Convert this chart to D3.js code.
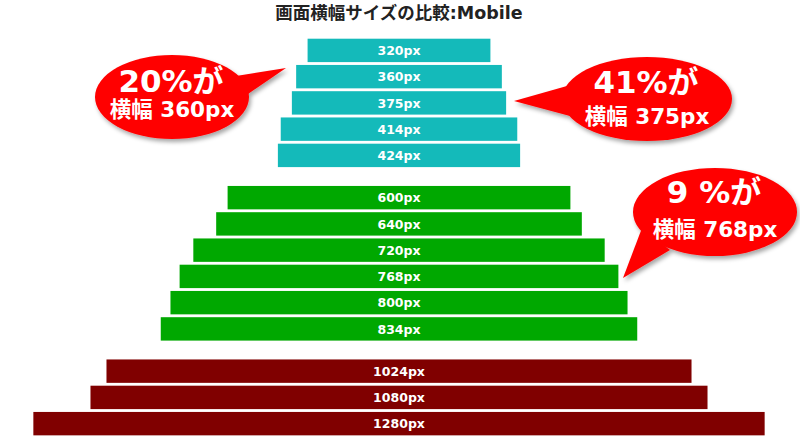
<!DOCTYPE html>
<html>
<head>
<meta charset="utf-8">
<script src="https://cdn.jsdelivr.net/npm/d3@7"></script>
<style>
  html, body { margin: 0; padding: 0; background: #ffffff; }
  svg { display: block; }
</style>
</head>
<body>
<div id="chart"></div>
<script>
// ---- data ----
const title = "画面横幅サイズの比較:Mobile";
const categories = ["320px","360px","375px","414px","424px","600px","640px","720px","768px","800px","834px","1024px","1080px","1280px"];
const widthsPx = [320,360,375,414,424,600,640,720,768,800,834,1024,1080,1280];
const groupIndex = [0,0,0,0,0,1,1,1,1,1,1,2,2,2];
const groupColors = ["#14BABA","#00A800","#800000"];
const calloutLine1 = ["20%が","41%が","9 %が"];
const calloutLine2 = ["横幅 360px","横幅 375px","横幅 768px"];

// ---- layout ----
const W = 800, H = 437;
const cx = 399;
const svg = d3.select("#chart").append("svg").attr("width", W).attr("height", H);

const defs = svg.append("defs");
const f = defs.append("filter").attr("id","shadow").attr("x","-20%").attr("y","-20%").attr("width","150%").attr("height","150%");
f.append("feDropShadow").attr("dx",2).attr("dy",3).attr("stdDeviation",2)
  .attr("flood-color","#000").attr("flood-opacity",0.35);

const fontFam = "'DejaVu Sans', 'Noto Sans CJK JP', sans-serif";

svg.append("text")
  .attr("x", cx).attr("y", 18.5)
  .attr("text-anchor","middle")
  .style("font-family", fontFam)
  .style("font-weight","bold")
  .style("font-size","17.5px")
  .attr("fill","#222")
  .text(title);

const x = d3.scaleLinear().domain([0, 1280]).range([0, 731.3]);
const yIdx = d3.scaleLinear().domain([0, 13]).range([38.7, 38.7 + 13 * 26.25]);
const groupGap = d3.scaleLinear().domain([0, 2]).range([0, 32]);
const barH = 23.4;

const rows = categories.map((c, i) => ({ label: c, v: widthsPx[i], g: groupIndex[i], i }));

const bars = svg.append("g").selectAll("g.bar").data(rows).join("g").attr("class","bar");
bars.append("rect")
  .attr("x", d => cx - x(d.v) / 2)
  .attr("y", d => yIdx(d.i) + groupGap(d.g))
  .attr("width", d => x(d.v))
  .attr("height", barH)
  .attr("fill", d => groupColors[d.g]);
bars.append("text")
  .attr("x", cx)
  .attr("y", d => yIdx(d.i) + groupGap(d.g) + barH / 2 + 4.6)
  .attr("text-anchor","middle")
  .style("font-family", fontFam)
  .style("font-weight","bold")
  .style("font-size","12.5px")
  .attr("fill","#fff")
  .text(d => d.label);

// ---- callouts ----
const callouts = [
  { e: [172, 97, 77, 42], tail: [[236, 76], [286, 68], [248, 94]], b1: 91.7, b2: 117.3 },
  { e: [647, 99, 85, 42], tail: [[574, 84], [514, 101], [570, 116]], b1: 93.3, b2: 124 },
  { e: [715, 212, 82, 44], tail: [[642, 228], [623, 278], [670, 250]], b1: 203, b2: 236.7 }
];

const cg = svg.append("g").selectAll("g.callout").data(callouts).join("g").attr("class","callout");
const shape = cg.append("g").attr("filter","url(#shadow)");
shape.append("ellipse")
  .attr("cx", d => d.e[0]).attr("cy", d => d.e[1])
  .attr("rx", d => d.e[2]).attr("ry", d => d.e[3])
  .attr("fill","#FF0000");
shape.append("path")
  .attr("d", d => d3.line()(d.tail) + "Z")
  .attr("fill","#FF0000");
cg.append("text")
  .attr("x", d => d.e[0] - 1)
  .attr("y", d => d.b1)
  .attr("text-anchor","middle")
  .style("font-family", fontFam)
  .style("font-weight","bold")
  .style("font-size","31px")
  .attr("fill","#fff")
  .text((d, i) => calloutLine1[i]);
cg.append("text")
  .attr("x", d => d.e[0])
  .attr("y", d => d.b2)
  .attr("text-anchor","middle")
  .style("font-family", fontFam)
  .style("font-weight","bold")
  .style("font-size","21.5px")
  .attr("fill","#fff")
  .text((d, i) => calloutLine2[i]);
</script>
</body>
</html>
